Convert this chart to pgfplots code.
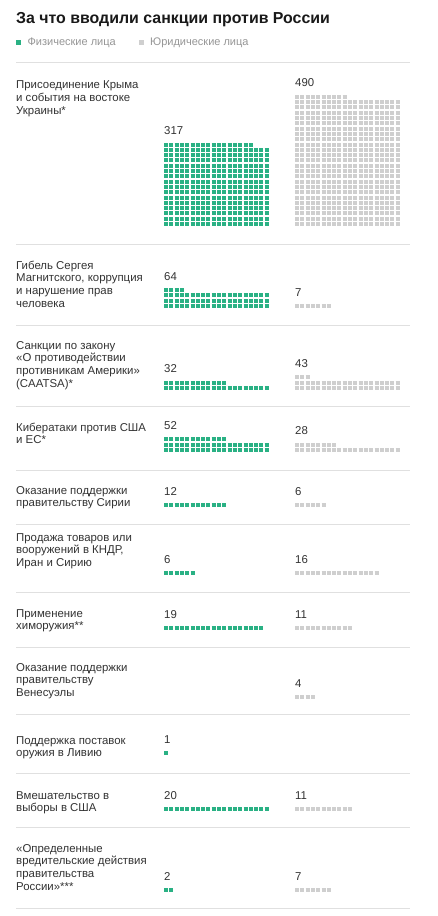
\documentclass[border=0pt]{standalone}
\usepackage{fontspec}
\setmainfont{Liberation Sans}
\usepackage{pgfplots}
\pgfplotsset{compat=1.18}
\definecolor{wgreen}{RGB}{42,177,132}
\definecolor{wgray}{RGB}{207,207,207}
\definecolor{sepgray}{RGB}{224,224,224}
\definecolor{txt}{RGB}{51,51,51}
\definecolor{leg}{RGB}{150,150,150}

\def\wp{5.3}\def\wsq{4}\def\wgap{1.3}
\pgfplotsset{
  wrow/.style={line width=4pt, dash pattern=on 4pt off 1.3pt, line cap=butt, mark=none, forget plot},
}
\tikzset{
  numlab/.style={anchor=base west, inner sep=0pt, text=txt, font=\fontsize{11.4}{13}\selectfont},
  catlab/.style={anchor=base west, inner sep=0pt, text=txt, font=\fontsize{11.4}{13}\selectfont},
}

% #1 x0, #2 bottom edge, #3 count, #4 colour
\newcommand{\waffle}[4]{%
 \ifnum#3>0
  \pgfmathtruncatemacro{\wfull}{floor(#3/20)}%
  \pgfmathtruncatemacro{\wrem}{#3-20*\wfull}%
  \pgfmathtruncatemacro{\wrows}{\wfull+(\wrem>0 ? 1 : 0)}%
  \ifnum\wfull>0
   \pgfmathtruncatemacro{\wlast}{\wfull-1}%
   \pgfplotsforeachungrouped \wr in {0,...,\wlast}{%
     \pgfmathsetmacro{\wy}{#2-\wsq/2-\wr*\wp}%
     \pgfmathsetmacro{\wxb}{#1+20*\wp-\wgap}%
     \edef\wtmp{\noexpand\addplot[wrow,#4] coordinates {(#1,\wy) (\wxb,\wy)};}\wtmp
   }%
  \fi
  \ifnum\wrem>0
     \pgfmathsetmacro{\wy}{#2-\wsq/2-\wfull*\wp}%
     \pgfmathsetmacro{\wxb}{#1+\wrem*\wp-\wgap}%
     \edef\wtmp{\noexpand\addplot[wrow,#4] coordinates {(#1,\wy) (\wxb,\wy)};}\wtmp
  \fi
  \pgfmathsetmacro{\wlab}{#2-\wrows*\wp+\wgap-8}%
  \edef\wtmp{\noexpand\node[numlab] at (axis cs:#1,\wlab) {#3};}\wtmp
 \fi}

\newcommand{\lab}[2]{\node[catlab] at (axis cs:16,#1) {#2};}
\newcommand{\sep}[1]{\draw[sepgray, line width=1pt] (axis cs:16,#1) -- (axis cs:410,#1);}

\begin{document}
\begin{tikzpicture}
\fill[white] (0,0) rectangle (437pt,916pt);
\path[use as bounding box] (0,0) rectangle (437pt,916pt);
\begin{axis}[
  at={(0,0)}, anchor=south west,
  scale only axis, width=437pt, height=916pt,
  xmin=0, xmax=437, ymin=0, ymax=916, y dir=reverse,
  hide axis, clip=false,
  legend style={at={(axis cs:16,42)}, anchor=west, draw=none, fill=none,
    font=\fontsize{11}{12}\selectfont, text=leg, inner sep=0pt,
    nodes={inner sep=0pt},
    /tikz/every odd column/.append style={column sep=7pt},
    /tikz/every even column/.append style={column sep=23pt}},
  legend columns=2,
]
\addlegendimage{legend image code/.code={\fill[wgreen] (0pt,-2pt) rectangle (4pt,2pt);}}
\addlegendentry{Физические лица}
\addlegendimage{legend image code/.code={\fill[wgray] (0pt,-2pt) rectangle (4pt,2pt);}}
\addlegendentry{Юридические лица}

\node[anchor=base west, inner sep=0pt, font=\bfseries\fontsize{15.9}{18}\selectfont, text=black!90] at (axis cs:16,23.5) {За что вводили санкции против России};

\sep{62}\sep{244}\sep{325}\sep{406}\sep{470}\sep{524}\sep{592}\sep{647}\sep{714.5}\sep{773}\sep{827}\sep{908}

% category 1
\lab{88.5}{Присоединение Крыма}\lab{101.2}{и события на востоке}\lab{114}{Украины*}
\waffle{164}{226}{317}{wgreen}
\waffle{295}{226}{490}{wgray}
% category 2
\lab{269}{Гибель Сергея}\lab{281.7}{Магнитского, коррупция}\lab{294.4}{и нарушение прав}\lab{307.1}{человека}
\waffle{164}{308}{64}{wgreen}
\waffle{295}{308}{7}{wgray}
% category 3
\lab{349}{Санкции по закону}\lab{361.7}{«О противодействии}\lab{374.4}{противникам Америки»}\lab{387.1}{(CAATSA)*}
\waffle{164}{390}{32}{wgreen}
\waffle{295}{390}{43}{wgray}
% category 4
\lab{431}{Кибератаки против США}\lab{443.7}{и ЕС*}
\waffle{164}{452}{52}{wgreen}
\waffle{295}{452}{28}{wgray}
% category 5
\lab{494}{Оказание поддержки}\lab{506.7}{правительству Сирии}
\waffle{164}{507}{12}{wgreen}
\waffle{295}{507}{6}{wgray}
% category 6
\lab{541}{Продажа товаров или}\lab{553.7}{вооружений в КНДР,}\lab{566.4}{Иран и Сирию}
\waffle{164}{575}{6}{wgreen}
\waffle{295}{575}{16}{wgray}
% category 7
\lab{617}{Применение}\lab{629.7}{химоружия**}
\waffle{164}{630}{19}{wgreen}
\waffle{295}{630}{11}{wgray}
% category 8
\lab{671}{Оказание поддержки}\lab{683.7}{правительству}\lab{696.4}{Венесуэлы}
\waffle{164}{699}{0}{wgreen}
\waffle{295}{699}{4}{wgray}
% category 9
\lab{744}{Поддержка поставок}\lab{756.7}{оружия в Ливию}
\waffle{164}{755}{1}{wgreen}
\waffle{295}{755}{0}{wgray}
% category 10
\lab{799}{Вмешательство в}\lab{811.7}{выборы в США}
\waffle{164}{811}{20}{wgreen}
\waffle{295}{811}{11}{wgray}
% category 11
\lab{852}{«Определенные}\lab{864.7}{вредительские действия}\lab{877.4}{правительства}\lab{890.1}{России»***}
\waffle{164}{892}{2}{wgreen}
\waffle{295}{892}{7}{wgray}
\end{axis}
\end{tikzpicture}
\end{document}
